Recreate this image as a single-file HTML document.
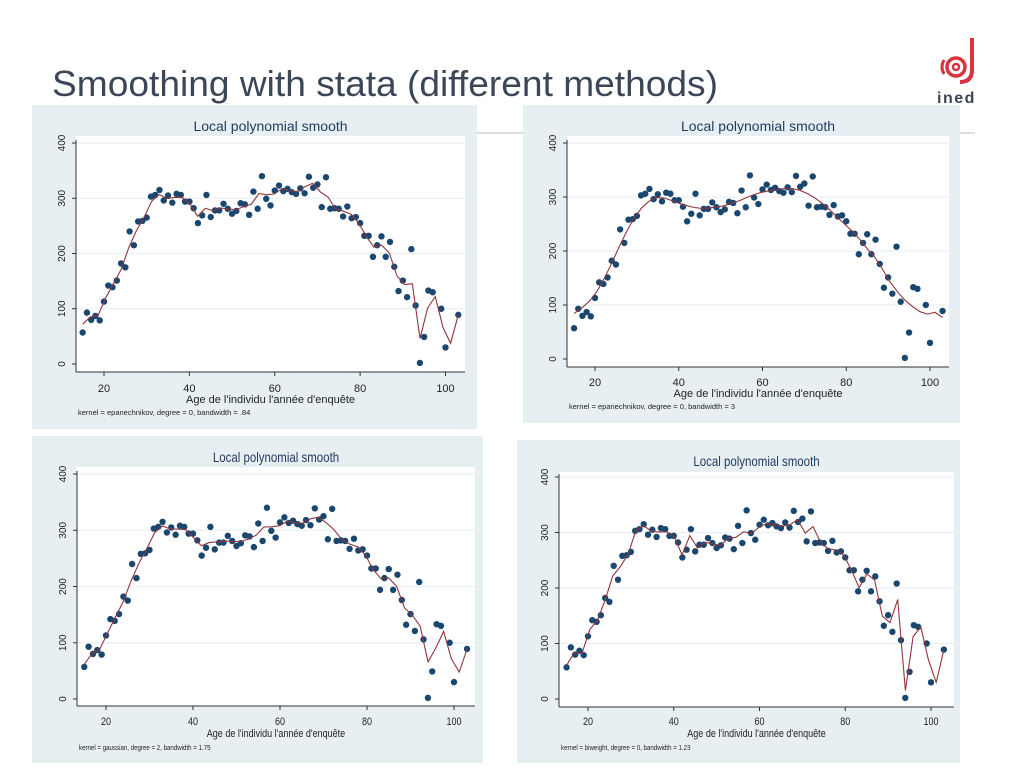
<!DOCTYPE html>
<html><head><meta charset="utf-8"><style>
body{margin:0;background:#fff;width:1024px;height:768px;overflow:hidden;font-family:"Liberation Sans",sans-serif}
</style></head><body>
<svg id="s" width="1024" height="768" xmlns="http://www.w3.org/2000/svg">
<text x="52" y="96" font-size="36" textLength="666" lengthAdjust="spacingAndGlyphs" fill="#3b4757" font-family="Liberation Sans, sans-serif">Smoothing with stata (different methods)</text>
<line x1="470" y1="133" x2="975" y2="133" stroke="#bbb" stroke-width="1"/>
<g>
<path d="M972 38 L972 70 Q972 82 960 82" fill="none" stroke="#d9333f" stroke-width="4"/>
<circle cx="956" cy="67" r="9" fill="none" stroke="#d9333f" stroke-width="3.5"/>
<circle cx="956" cy="67" r="3" fill="none" stroke="#d9333f" stroke-width="2.5"/>
<path d="M944 60 Q940 67 944 74" fill="none" stroke="#d9333f" stroke-width="3"/>
<text x="937" y="103" font-size="16" font-weight="bold" fill="#3b4757" letter-spacing="1.5">ined</text>
</g>
</svg>
<script>
const ages=[15,16,17,18,19,20,21,22,23,24,25,26,27,28,29,30,31,32,33,34,35,36,37,38,39,40,41,42,43,44,45,46,47,48,49,50,51,52,53,54,55,56,57,58,59,60,61,62,63,64,65,66,67,68,69,70,71,72,73,74,75,76,77,78,79,80,81,82,83,84,85,86,87,88,89,90,91,92,93,94,95,96,97,99,100,103];
const counts=[57,93,80,87,79,113,142,139,151,182,175,240,215,258,259,265,303,306,315,296,305,292,308,306,294,294,282,255,269,306,266,278,278,290,281,272,277,291,289,270,312,281,340,299,287,314,323,313,317,311,308,318,309,339,319,325,284,338,281,282,281,267,285,264,266,255,232,232,194,215,231,194,221,176,132,151,121,208,106,2,49,133,130,100,30,89];
const xTicks=[20,40,60,80,100];
const yTicks=[0,100,200,300,400];
const panels=[
 {name:'panel-epan-084',box:[32,105,445,324],plot:[76,136,465,372],x20:104,x100:445.5,y0:364,y400:143,title:126,tick:388,xt:399,note:412,kernel:'epan',deg:0,bw:0.84,noteText:'kernel = epanechnikov, degree = 0, bandwidth = .84',cond:1},
 {name:'panel-epan-3',box:[523,105,437,318],plot:[567,136,949,367],x20:595,x100:930,y0:359,y400:143,title:126,tick:382,xt:393,note:406,kernel:'epan',deg:0,bw:3,noteText:'kernel = epanechnikov, degree = 0, bandwidth = 3',cond:1},
 {name:'panel-gauss-175',box:[32,436,451,327],plot:[77,467,475,706],x20:106,x100:454,y0:699,y400:474,title:457,tick:721,xt:733,note:747,kernel:'gauss',deg:2,bw:1.75,noteText:'kernel = gaussian, degree = 2, bandwidth = 1.75',cond:0.82},
 {name:'panel-biweight-123',box:[517,440,443,323],plot:[559,472,954,707],x20:588,x100:931,y0:699,y400:477,title:461,tick:721,xt:733,note:747,kernel:'biw',deg:0,bw:1.23,noteText:'kernel = biweight, degree = 0, bandwidth = 1.23',cond:0.82}
];
const NS='http://www.w3.org/2000/svg';
const svg=document.getElementById('s');
function mk(tag,attrs,parent){const e=document.createElementNS(NS,tag);for(const k in attrs)e.setAttribute(k,attrs[k]);parent.appendChild(e);return e;}
function K(kind,u){
 if(kind==='epan'){const a=Math.sqrt(5);return Math.abs(u)<a?0.75*(1-u*u/5)/a:0;}
 if(kind==='biw'){return Math.abs(u)<1?(15/16)*Math.pow(1-u*u,2):0;}
 return Math.exp(-u*u/2);
}
function solve(A,b){const n=b.length;for(let i=0;i<n;i++){let p=i;for(let r=i+1;r<n;r++)if(Math.abs(A[r][i])>Math.abs(A[p][i]))p=r;[A[i],A[p]]=[A[p],A[i]];[b[i],b[p]]=[b[p],b[i]];if(Math.abs(A[i][i])<1e-12)return null;for(let r=i+1;r<n;r++){const f=A[r][i]/A[i][i];for(let c=i;c<n;c++)A[r][c]-=f*A[i][c];b[r]-=f*b[i];}}const x=new Array(n).fill(0);for(let i=n-1;i>=0;i--){let s=b[i];for(let c=i+1;c<n;c++)s-=A[i][c]*x[c];x[i]=s/A[i][i];}return x;}
function lpoly(kind,deg,bw,g){
 const n=deg+1;const A=[...Array(n)].map(()=>new Array(n).fill(0));const b=new Array(n).fill(0);let cnt=0;
 for(let i=0;i<ages.length;i++){const w=K(kind,(ages[i]-g)/bw);if(w<=0)continue;cnt++;const d=ages[i]-g;
  for(let r=0;r<n;r++){b[r]+=w*Math.pow(d,r)*counts[i];for(let c=0;c<n;c++)A[r][c]+=w*Math.pow(d,r+c);}}
 if(cnt<n)return null;const s=solve(A,b);return s?s[0]:null;
}
panels.forEach(p=>{
 const g=mk('g',{},svg);
 
 
 const sx=v=>p.x20+(v-20)*(p.x100-p.x20)/80;
 const sy=v=>p.y0-(v)*(p.y0-p.y400)/400;
 const bg=mk('rect',{x:p.box[0],y:p.box[1],width:p.box[2],height:p.box[3],fill:'#e8eff3'},g);
 
 
 const pr=mk('rect',{x:p.plot[0],y:p.plot[1],width:p.plot[2]-p.plot[0],height:p.plot[3]-p.plot[1],fill:'#fff'},g);
 
 
 const cx=(p.plot[0]+p.plot[2])/2;
 const t=mk('text',{x:cx,y:p.title+5,'font-size':14,fill:'#1e3a5f','text-anchor':'middle',transform:`translate(${cx},0) scale(${p.cond},1) translate(${-cx},0)`},g);
 t.textContent='Local polynomial smooth';
 
 
 yTicks.forEach(v=>{
  const y=sy(v);
  if(v>0){const gl=mk('line',{x1:p.plot[0],x2:p.plot[2],y1:y,y2:y,stroke:'#eaf0f4','stroke-width':1.2},g);
   
   }
  mk('line',{x1:p.plot[0]-4,x2:p.plot[0],y1:y,y2:y,stroke:'#333','stroke-width':1},g);
  const lx=p.plot[0]-11;
  const tl=mk('text',{x:lx,y:y,'font-size':10,fill:'#222','text-anchor':'middle',transform:`rotate(-90 ${lx} ${y})`},g);
  tl.textContent=v;
  
  
 });
 mk('line',{x1:p.plot[0],x2:p.plot[0],y1:sy(400)-3,y2:p.plot[3],stroke:'#333','stroke-width':1},g);
 mk('line',{x1:p.plot[0],x2:p.plot[2],y1:p.plot[3],y2:p.plot[3],stroke:'#333','stroke-width':1},g);
 xTicks.forEach(v=>{
  const x=sx(v);
  mk('line',{x1:x,x2:x,y1:p.plot[3],y2:p.plot[3]+4,stroke:'#333'},g);
  const tl=mk('text',{x:x,y:p.tick+4,'font-size':11,fill:'#222','text-anchor':'middle',transform:`translate(${x},0) scale(${p.cond},1) translate(${-x},0)`},g);
  tl.textContent=v;
  
  
 });
 const xt=mk('text',{x:cx,y:p.xt+4,'font-size':11,fill:'#222','text-anchor':'middle',transform:`translate(${cx},0) scale(${p.cond},1) translate(${-cx},0)`},g);
 xt.textContent="Age de l'individu l'année d'enquête";
 
 
 const nx=p.plot[0]+2;
 const nt=mk('text',{x:nx,y:p.note+3,'font-size':7.5,fill:'#222',transform:`translate(${nx},0) scale(${p.cond},1) translate(${-nx},0)`},g);
 nt.textContent=p.noteText;
 
 
 ages.forEach((a,i)=>{
  const c=mk('circle',{cx:sx(a),cy:sy(counts[i]),r:3.2,fill:'#1a476f'},g);
  
  
 });
 const mn=Math.min(...ages),mx=Math.max(...ages);let d='';let pen=false;
 for(let k=0;k<50;k++){const gx=mn+(mx-mn)*k/49;const v=lpoly(p.kernel,p.deg,p.bw,gx);
  if(v===null){pen=false;continue;}d+=(pen?'L':'M')+sx(gx).toFixed(1)+' '+sy(v).toFixed(1)+' ';pen=true;}
 const path=mk('path',{d:d,fill:'none',stroke:'#90353b','stroke-width':1.1},g);
 
 
});
</script>
</body></html>
